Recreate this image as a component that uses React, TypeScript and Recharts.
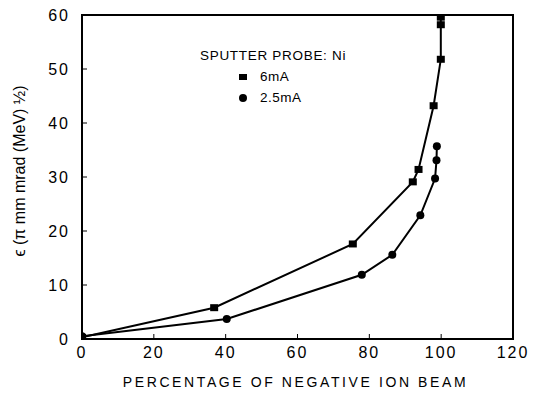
import React from 'react';
import { ScatterChart, Scatter, XAxis, YAxis, ReferenceArea } from 'recharts';

const beam6mA = [0, 36.8, 75.4, 92.1, 93.7, 97.9, 99.9, 99.9, 99.9];
const emit6mA = [0.3, 5.8, 17.6, 29.1, 31.4, 43.2, 51.8, 58.2, 59.6];
const beam25mA = [0, 40.3, 77.9, 86.4, 94.2, 98.3, 98.7, 98.8];
const emit25mA = [0.5, 3.7, 11.9, 15.6, 22.9, 29.7, 33.1, 35.7];
const xTicks = [0, 20, 40, 60, 80, 100, 120];
const yTicks = [0, 10, 20, 30, 40, 50, 60];
const legendTitle = 'SPUTTER PROBE: Ni';
const seriesNames = ['6mA', '2.5mA'];

const data6 = beam6mA.map((x, i) => ({ x, y: emit6mA[i] }));
const data25 = beam25mA.map((x, i) => ({ x, y: emit25mA[i] }));

const FONT = '"Liberation Sans", Arial, sans-serif';

const Square = (p: any) => (
  <rect x={p.cx - 4} y={p.cy - 3.5} width={8} height={7} fill="#000" />
);
const Dot = (p: any) => <circle cx={p.cx} cy={p.cy} r={4} fill="#000" />;

const YLabel = (props: any) => {
  const vb = props.viewBox;
  const cx = vb.x + 19;
  const cy = vb.y + vb.height / 2 - 6;
  return (
    <text
      x={cx}
      y={cy}
      transform={`rotate(-90 ${cx} ${cy})`}
      textAnchor="middle"
      dominantBaseline="central"
      fontFamily={FONT}
      fontSize={16}
      fill="#000"
    >
      ϵ (π mm mrad (MeV) ½)
    </text>
  );
};

const XLabel = (props: any) => {
  const vb = props.viewBox;
  const cx = vb.x + vb.width / 2 - 2;
  return (
    <text
      x={cx}
      y={vb.y + 43}
      textAnchor="middle"
      dominantBaseline="central"
      fontFamily={FONT}
      fontSize={14}
      letterSpacing={2.6}
      fill="#000"
    >
      PERCENTAGE OF NEGATIVE ION BEAM
    </text>
  );
};

const LegendBox = () => (
  <div
    style={{
      position: 'absolute',
      left: 200,
      top: 45,
      fontFamily: FONT,
      fontSize: 13.5,
      color: '#000',
      lineHeight: '21px',
    }}
  >
    <div style={{ letterSpacing: 0.7, whiteSpace: 'nowrap' }}>{legendTitle}</div>
    <div style={{ display: 'flex', alignItems: 'center', paddingLeft: 38 }}>
      <svg width={22} height={10}>
        <rect x={1} y={2} width={8} height={6} fill="#000" />
      </svg>
      <span style={{ letterSpacing: 0.5 }}>{seriesNames[0]}</span>
    </div>
    <div style={{ display: 'flex', alignItems: 'center', paddingLeft: 38 }}>
      <svg width={22} height={10}>
        <circle cx={5} cy={5} r={4} fill="#000" />
      </svg>
      <span style={{ letterSpacing: 0.5 }}>{seriesNames[1]}</span>
    </div>
  </div>
);

const tickStyle = { fontFamily: FONT, fontSize: 16, fill: '#000', letterSpacing: 2 };

export default function App() {
  return (
    <div style={{ position: 'absolute', left: 0, top: 0, width: 533, height: 393, background: '#fff' }}>
      <ScatterChart width={533} height={393} margin={{ top: 15, right: 19, bottom: 0, left: 0 }}>
        <XAxis
          xAxisId="b"
          dataKey="x"
          type="number"
          domain={[0, 120]}
          ticks={xTicks}
          tickSize={-5}
          tickMargin={13}
          height={54}
          axisLine={{ stroke: '#000', strokeWidth: 2 }}
          tickLine={{ stroke: '#000', strokeWidth: 1 }}
          tick={tickStyle}
          label={<XLabel />}
          allowDataOverflow
        />
        <YAxis
          yAxisId="l"
          dataKey="y"
          type="number"
          domain={[0, 60]}
          ticks={yTicks}
          tickSize={-5}
          tickMargin={17}
          width={82}
          axisLine={{ stroke: '#000', strokeWidth: 2 }}
          tickLine={{ stroke: '#000', strokeWidth: 1 }}
          tick={tickStyle}
          label={<YLabel />}
          allowDataOverflow
        />
        <YAxis
          yAxisId="r"
          orientation="right"
          dataKey="y"
          type="number"
          domain={[0, 60]}
          ticks={yTicks}
          tickSize={-5}
          width={1}
          axisLine={{ stroke: '#000', strokeWidth: 2 }}
          tickLine={{ stroke: '#000', strokeWidth: 1 }}
          tickFormatter={() => ''}
        />
        <ReferenceArea
          xAxisId="b"
          yAxisId="l"
          x1={0}
          x2={120}
          y1={0}
          y2={60}
          fill="none"
          stroke="#000"
          strokeWidth={2}
          fillOpacity={0}
          ifOverflow="visible"
        />
        <Scatter
          xAxisId="b"
          yAxisId="l"
          name={seriesNames[0]}
          data={data6}
          line={{ stroke: '#000', strokeWidth: 2 }}
          lineType="joint"
          shape={<Square />}
          isAnimationActive={false}
        />
        <Scatter
          xAxisId="b"
          yAxisId="l"
          name={seriesNames[1]}
          data={data25}
          line={{ stroke: '#000', strokeWidth: 2 }}
          lineType="joint"
          shape={<Dot />}
          isAnimationActive={false}
        />
      </ScatterChart>
      <LegendBox />
    </div>
  );
}
